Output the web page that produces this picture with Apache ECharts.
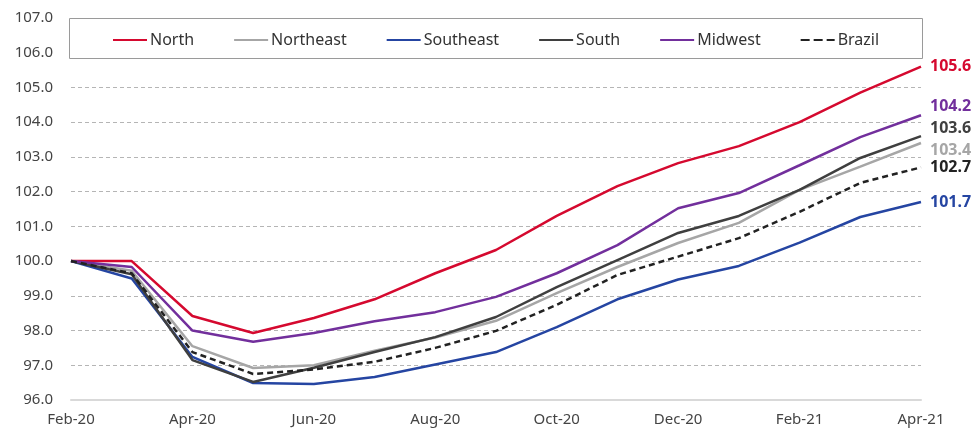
<!DOCTYPE html>
<html><head><meta charset="utf-8">
<script src="https://cdn.jsdelivr.net/npm/echarts@6/dist/echarts.min.js"></script>
<style>html,body{margin:0;padding:0;background:#fff}#c{width:972px;height:433px}</style>
</head><body><div id="c"></div>
<script>
const months = ['Feb-20','Mar-20','Apr-20','May-20','Jun-20','Jul-20','Aug-20','Sep-20','Oct-20','Nov-20','Dec-20','Jan-21','Feb-21','Mar-21','Apr-21'];
const north     = [100, 100.0, 98.42, 97.93, 98.36, 98.9, 99.65, 100.32, 101.3, 102.16, 102.82, 103.31, 104.0, 104.85, 105.6];
const northeast = [100, 99.72, 97.55, 96.92, 97.0, 97.42, 97.8, 98.28, 99.08, 99.83, 100.52, 101.1, 102.05, 102.72, 103.4];
const southeast = [100, 99.5, 97.24, 96.49, 96.46, 96.66, 97.02, 97.38, 98.1, 98.9, 99.47, 99.86, 100.53, 101.27, 101.7];
const south     = [100, 99.62, 97.15, 96.52, 96.93, 97.38, 97.81, 98.39, 99.25, 100.03, 100.81, 101.3, 102.05, 102.97, 103.6];
const midwest   = [100, 99.83, 98.0, 97.68, 97.93, 98.27, 98.53, 98.97, 99.65, 100.46, 101.52, 101.96, 102.76, 103.57, 104.2];
const brazil    = [100, 99.65, 97.38, 96.75, 96.88, 97.1, 97.5, 97.99, 98.74, 99.6, 100.13, 100.66, 101.42, 102.25, 102.7];
const yTicks = {min: 96, max: 107, step: 1};

const FONT = 'Noto Sans';
function mk(name, data, color, opts) {
  opts = opts || {};
  return {
    name: name, type: 'line', data: data, symbol: 'none', smooth: false,
    lineStyle: {color: color, width: 2.5, type: opts.dash ? [6, 4] : 'solid'},
    itemStyle: {color: color},
    z: opts.z || 3,
    endLabel: {
      show: true, color: color, fontWeight: 'bold', fontSize: 16, fontFamily: FONT,
      distance: 9, offset: opts.off || [0, 0],
      formatter: p => Number(p.value).toFixed(1)
    }
  };
}
const chart = echarts.init(document.getElementById('c'), null, {renderer: 'canvas'});
chart.setOption({
  animation: false,
  backgroundColor: '#fff',
  grid: {left: 71, right: 51, top: 18, bottom: 33, containLabel: false},
  graphic: [{
    type: 'rect', z: 50, left: 69, top: 18,
    shape: {width: 853, height: 40},
    style: {fill: '#fff', stroke: '#9a9a9a', lineWidth: 1}
  }],
  legend: {
    z: 60, top: 27, left: 108, itemGap: 40, itemWidth: 34, itemHeight: 12,
    textStyle: {fontSize: 16, color: '#333', fontFamily: FONT, padding: [0, 0, 0, -2]},
    icon: 'path://M0,5 L34,5 L34,7 L0,7 Z',
    data: [
      {name: 'North'}, {name: 'Northeast'}, {name: 'Southeast'}, {name: 'South'}, {name: 'Midwest'},
      {name: 'Brazil', icon: 'path://M0,5 L9,5 L9,7 L0,7 Z M13,5 L22,5 L22,7 L13,7 Z M26,5 L34,5 L34,7 L26,7 Z'}
    ]
  },
  xAxis: {
    type: 'category', data: months, boundaryGap: false,
    axisLine: {lineStyle: {color: '#d9d9d9', width: 2}},
    axisTick: {show: false},
    axisLabel: {interval: 1, color: '#444', fontSize: 15, fontFamily: FONT, margin: 12},
    splitLine: {show: false}
  },
  yAxis: {
    type: 'value', min: yTicks.min, max: yTicks.max, interval: yTicks.step,
    axisLine: {show: false}, axisTick: {show: false},
    axisLabel: {color: '#444', fontSize: 15, fontFamily: FONT, margin: 18, formatter: v => v.toFixed(1)},
    splitLine: {lineStyle: {color: '#b5b5b5', type: [4, 3], width: 1}}
  },
  series: [
    mk('North', north, '#d5092f'),
    mk('Northeast', northeast, '#a6a6a6', {off: [0, 7]}),
    mk('Southeast', southeast, '#2545a2'),
    mk('South', south, '#3f3f3f', {off: [0, -8]}),
    mk('Midwest', midwest, '#722f9c', {off: [0, -9]}),
    mk('Brazil', brazil, '#222222', {dash: true, z: 4})
  ]
});
</script></body></html>
